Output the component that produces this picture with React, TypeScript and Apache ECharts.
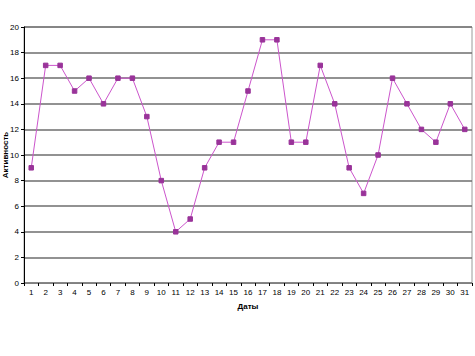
import React, { useEffect, useRef } from "react";
import * as echarts from "echarts";

const days: string[] = Array.from({ length: 31 }, (_, i) => String(i + 1));
const activity: number[] = [9, 17, 17, 15, 16, 14, 16, 16, 13, 8, 4, 5, 9, 11, 11, 15, 19, 19, 11, 11, 17, 14, 9, 7, 10, 16, 14, 12, 11, 14, 12];
const yTitle = "Активность";
const xTitle = "Даты";

export default function App() {
  const ref = useRef<HTMLDivElement>(null);
  useEffect(() => {
    if (!ref.current) return;
    const chart = echarts.init(ref.current, undefined, { renderer: "svg" });
    chart.setOption({
      animation: false,
      backgroundColor: "#ffffff",
      textStyle: { fontFamily: "Liberation Sans, Arial, sans-serif" },
      grid: {
        left: 24, right: 3, top: 27, bottom: 73,
        containLabel: false, outerBoundsMode: "none",
        show: true, borderColor: "#9a9a9a", borderWidth: 1,
      },
      xAxis: {
        type: "category",
        data: days,
        boundaryGap: true,
        name: xTitle,
        nameLocation: "middle",
        nameGap: 19,
        nameMoveOverlap: false,
        nameTextStyle: { fontSize: 8, fontWeight: "bold", color: "#000" },
        axisLine: { lineStyle: { color: "#808080", width: 1 } },
        axisTick: { show: true, length: 3, lineStyle: { color: "#000" } },
        axisLabel: { fontSize: 8, color: "#000", margin: 5, interval: 0 },
        splitLine: { show: false },
      },
      yAxis: {
        type: "value",
        min: 0,
        max: 20,
        interval: 2,
        name: yTitle,
        nameLocation: "middle",
        nameGap: 15,
        nameMoveOverlap: false,
        nameTextStyle: { fontSize: 8, fontWeight: "bold", color: "#000" },
        axisLine: { show: true, lineStyle: { color: "#000", width: 1 } },
        axisTick: { show: true, length: 3, lineStyle: { color: "#000" } },
        axisLabel: { fontSize: 8, color: "#000", margin: 5 },
        splitLine: { show: true, lineStyle: { color: "#6e6e6e", width: 1.5 } },
      },
      series: [
        {
          type: "line",
          data: activity,
          symbol: "rect",
          symbolSize: 4.5,
          lineStyle: { color: "#cc55cc", width: 1 },
          itemStyle: { color: "#993399", borderColor: "#993399" },
        },
      ],
    });
    return () => chart.dispose();
  }, []);
  return <div ref={ref} style={{ width: 475, height: 356, position: "absolute", left: 0, top: 0 }} />;
}
